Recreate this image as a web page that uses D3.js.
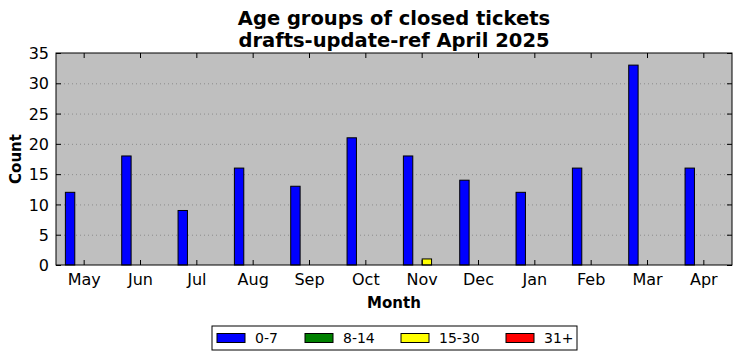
<!DOCTYPE html>
<html>
<head>
<meta charset="utf-8">
<script src="https://cdn.jsdelivr.net/npm/d3@7"></script>
<style>
body { margin: 0; background: #fff; }
text { font-family: "DejaVu Sans", sans-serif; }
</style>
</head>
<body>
<svg id="chart" width="742" height="361"></svg>
<script>
var months = ["May", "Jun", "Jul", "Aug", "Sep", "Oct", "Nov", "Dec", "Jan", "Feb", "Mar", "Apr"];
var groups = ["0-7", "8-14", "15-30", "31+"];
var colors = ["#0000ff", "#008000", "#ffff00", "#ff0000"];
var age0to7 = [12, 18, 9, 16, 13, 21, 18, 14, 12, 16, 33, 16];
var age8to14 = [0, 0, 0, 0, 0, 0, 0, 0, 0, 0, 0, 0];
var age15to30 = [0, 0, 0, 0, 0, 0, 1, 0, 0, 0, 0, 0];
var age31plus = [0, 0, 0, 0, 0, 0, 0, 0, 0, 0, 0, 0];
var yTicks = [0, 5, 10, 15, 20, 25, 30, 35];

function drawChart() {
    let chart = d3.select("#chart"),
        margin = { top: 53, right: 10, bottom: 96, left: 56 },
        width = +chart.attr("width") - margin.left - margin.right,
        height = +chart.attr("height") - margin.top - margin.bottom;

    let series = [age0to7, age8to14, age15to30, age31plus];

    let x = d3.scaleBand()
        .domain(months)
        .range([0, width])
        .padding(0);

    let y = d3.scaleLinear()
        .domain([0, 35])
        .range([height, 0]);

    let barW = x.bandwidth() / 6;

    let focus = chart.append("g")
        .attr("transform", "translate(" + margin.left + "," + margin.top + ")");

    focus.append("rect")
        .attr("width", width)
        .attr("height", height)
        .style("fill", "#bfbfbf");

    // dotted grid
    focus.selectAll(".grid")
        .data(yTicks.slice(1, -1))
        .enter().append("line")
        .attr("x1", 0)
        .attr("x2", width)
        .attr("y1", d => y(d) + 0.5)
        .attr("y2", d => y(d) + 0.5)
        .style("stroke", "#8c8c8c")
        .style("stroke-width", 1)
        .style("stroke-dasharray", "1,3");

    // bars
    series.forEach(function(vals, i) {
        focus.selectAll(".bar" + i)
            .data(vals)
            .enter().append("rect")
            .attr("x", (d, j) => x(months[j]) + x.bandwidth() / 2 - 2 * barW + i * barW)
            .attr("y", d => y(d))
            .attr("width", barW)
            .attr("height", d => y(0) - y(d))
            .style("fill", colors[i])
            .style("stroke", d => d > 0 ? "#000" : "none")
            .style("stroke-width", 1);
    });

    // axes, classic inward ticks
    let xAxis = d3.axisBottom(x).tickSizeInner(-5).tickSizeOuter(0).tickPadding(9);
    let xTop = d3.axisTop(x).tickSizeInner(-5).tickSizeOuter(0).tickFormat("");
    let yAxis = d3.axisLeft(y).tickValues(yTicks).tickSizeInner(-5).tickSizeOuter(0).tickPadding(7);
    let yRight = d3.axisRight(y).tickValues(yTicks).tickSizeInner(-5).tickSizeOuter(0).tickFormat("");

    let gx = focus.append("g")
        .attr("transform", "translate(0," + height + ")")
        .call(xAxis);
    focus.append("g").call(xTop);
    let gy = focus.append("g").call(yAxis);
    focus.append("g").attr("transform", "translate(" + width + ",0)").call(yRight);

    focus.selectAll(".domain").remove();
    focus.selectAll(".tick line").style("stroke", "#000");
    gx.selectAll("text").style("font-size", "16px").style("fill", "#000");
    gy.selectAll("text").style("font-size", "16px").style("fill", "#000").attr("dy", "0.35em");

    focus.append("rect")
        .attr("width", width)
        .attr("height", height)
        .style("fill", "none")
        .style("stroke", "#000")
        .style("stroke-width", 1);

    // titles
    chart.append("text")
        .attr("x", margin.left + width / 2)
        .attr("y", 25)
        .attr("text-anchor", "middle")
        .style("font-size", "19.5px")
        .style("font-weight", "bold")
        .text("Age groups of closed tickets");
    chart.append("text")
        .attr("x", margin.left + width / 2)
        .attr("y", 47)
        .attr("text-anchor", "middle")
        .style("font-size", "19.5px")
        .style("font-weight", "bold")
        .text("drafts-update-ref April 2025");

    chart.append("text")
        .attr("x", margin.left + width / 2)
        .attr("y", 308)
        .attr("text-anchor", "middle")
        .style("font-size", "15px")
        .style("font-weight", "bold")
        .text("Month");

    chart.append("text")
        .attr("transform", "translate(21," + (margin.top + height / 2) + ") rotate(-90)")
        .attr("text-anchor", "middle")
        .style("font-size", "15px")
        .style("font-weight", "bold")
        .text("Count");

    // legend
    let legend = chart.append("g").attr("transform", "translate(212,326)");
    legend.append("rect")
        .attr("width", 365)
        .attr("height", 24)
        .style("fill", "#fff")
        .style("stroke", "#000");
    let offsets = [5, 93, 189, 294];
    groups.forEach(function(g, i) {
        legend.append("rect")
            .attr("x", offsets[i])
            .attr("y", 7.5)
            .attr("width", 28)
            .attr("height", 9)
            .style("fill", colors[i])
            .style("stroke", "#000");
        legend.append("text")
            .attr("x", offsets[i] + 38)
            .attr("y", 17)
            .style("font-size", "14px")
            .text(g);
    });
}

drawChart();
</script>
</body>
</html>
